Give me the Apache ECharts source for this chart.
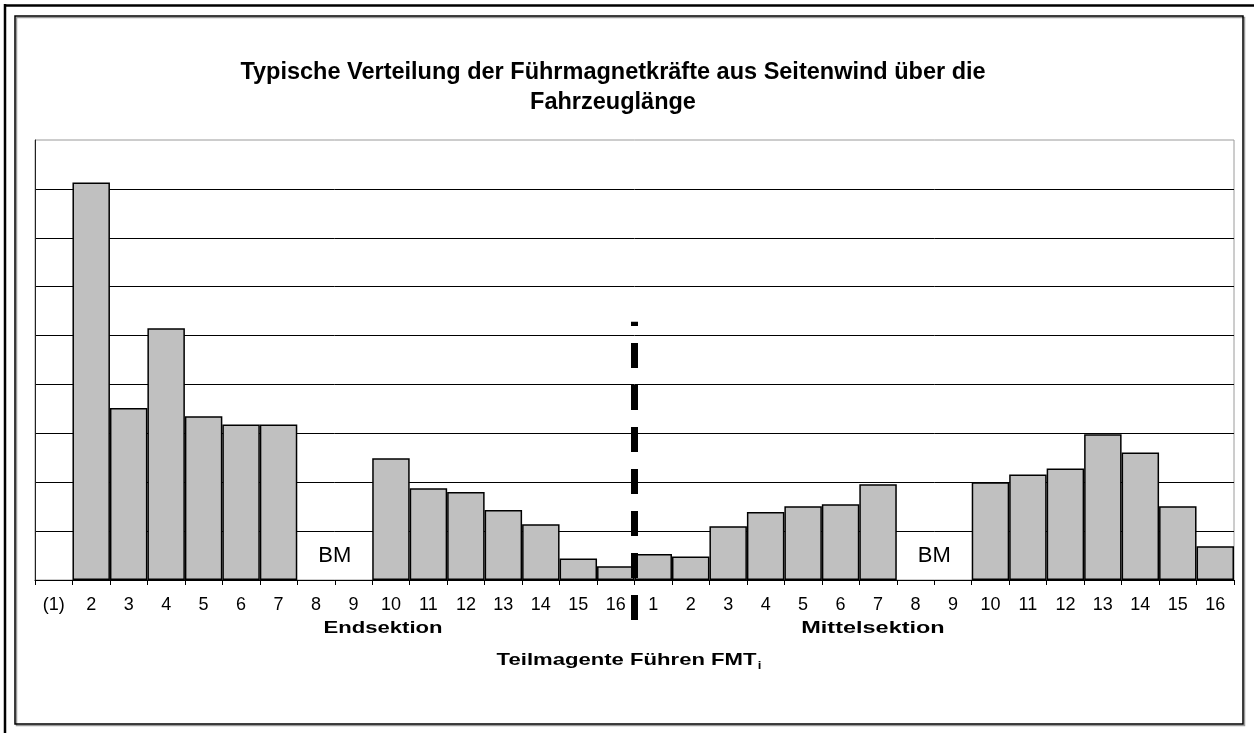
<!DOCTYPE html>
<html>
<head>
<meta charset="utf-8">
<title>Führmagnetkräfte</title>
<script src="https://cdn.jsdelivr.net/npm/echarts@6/dist/echarts.min.js"></script>
<style>
  html, body { margin: 0; padding: 0; background: #fff; }
  #chart { width: 1254px; height: 733px; }
</style>
</head>
<body>
<div id="chart"></div>
<script>
// Guide magnet segments: end section (1)..16 followed by middle section 1..16
const categories = ['(1)', '2', '3', '4', '5', '6', '7', '8', '9', '10', '11', '12', '13', '14', '15', '16',
                    '1', '2', '3', '4', '5', '6', '7', '8', '9', '10', '11', '12', '13', '14', '15', '16'];

// Crosswind guide forces per segment (relative units); null = no magnet (BM)
const forces = [null, 8.13, 3.52, 5.15, 3.35, 3.18, 3.18, null, null, 2.49, 1.875, 1.80, 1.43, 1.14, 0.44, 0.28,
                0.53, 0.48, 1.10, 1.39, 1.51, 1.55, 1.96, null, null, 2.00, 2.16, 2.28, 2.98, 2.61, 1.51, 0.69];

// Value range of the force axis
const yMin = 0;
const yMax = 9;
const yStep = 1;

// Section divider at the boundary between both sections (segment index), and its vertical extent
const dividerAt = 16;
const dividerSpan = [-0.82, 5.28];

// "BM" markers sit between the two empty segments of each section
const bmMarks = [[8, 0.5], [24, 0.5]];

const sectionNames = ['Endsektion', 'Mittelsektion'];
const axisTitle = 'Teilmagente Führen FMT';
const axisTitleIndex = 'i';
const titleText = 'Typische Verteilung der Führmagnetkräfte aus Seitenwind über die\nFahrzeuglänge';

const FONT = '"Liberation Sans", Arial, sans-serif';

const chart = echarts.init(document.getElementById('chart'), null, { renderer: 'canvas' });

// bold captions below the axis are drawn with wide tracking
const captionStyle = { fontFamily: FONT, fontWeight: 'bold', fontSize: 17, fill: '#000', align: 'center', verticalAlign: 'middle' };

chart.setOption({
  animation: false,
  backgroundColor: '#fff',
  title: {
    text: titleText,
    left: 608,
    top: 53,
    textAlign: 'center',
    textStyle: { fontFamily: FONT, fontWeight: 'bold', fontSize: 23.5, lineHeight: 30, color: '#000' }
  },
  grid: {
    left: 35, right: 20, top: 140, bottom: 153,
    show: true, borderColor: '#9a9a9a', borderWidth: 1, backgroundColor: 'transparent'
  },
  xAxis: [{
    type: 'category',
    data: categories,
    boundaryGap: true,
    axisLine: { lineStyle: { color: '#000', width: 1 } },
    axisTick: { show: true, interval: 0, length: 5, lineStyle: { color: '#000' } },
    axisLabel: { interval: 0, margin: 16, fontFamily: FONT, fontSize: 18, color: '#000' }
  }, {
    type: 'value',
    min: 0,
    max: categories.length,
    show: false
  }],
  yAxis: {
    type: 'value',
    min: yMin, max: yMax, interval: yStep,
    axisLabel: { show: false },
    axisTick: { show: false },
    axisLine: { show: true, lineStyle: { color: '#222', width: 1 } },
    splitLine: { show: true, showMaxLine: false, lineStyle: { color: '#000', width: 1 } }
  },
  series: [{
    type: 'bar',
    data: forces,
    barCategoryGap: '0%',
    itemStyle: { color: '#c0c0c0', borderColor: '#000', borderWidth: 1.5 },
    z: 2
  }, {
    type: 'line',
    xAxisIndex: 1,
    data: [[dividerAt, dividerSpan[0]], [dividerAt, dividerSpan[1]]],
    symbol: 'none',
    clip: false,
    lineStyle: { color: '#000', width: 7, type: [25, 17], cap: 'butt' },
    z: 5,
    silent: true
  }, {
    type: 'scatter',
    xAxisIndex: 1,
    data: bmMarks,
    symbolSize: 0,
    itemStyle: { opacity: 1 },
    label: {
      show: true, position: 'inside', formatter: 'BM',
      fontFamily: FONT, fontSize: 22, color: '#000'
    },
    z: 4,
    silent: true
  }],
  graphic: [
    // outer page edges
    { type: 'line', shape: { x1: 4, y1: 5.5, x2: 1254, y2: 5.5 }, style: { stroke: '#000', lineWidth: 2.5 } },
    { type: 'line', shape: { x1: 5, y1: 4, x2: 5, y2: 733 }, style: { stroke: '#000', lineWidth: 2.5 } },
    // chart frame with a light drop shadow
    { type: 'rect', shape: { x: 16.5, y: 17.5, width: 1228, height: 708 }, style: { fill: 'none', stroke: '#9a9a9a', lineWidth: 1.5 } },
    { type: 'rect', shape: { x: 15, y: 16, width: 1228, height: 708 }, style: { fill: 'none', stroke: '#000', lineWidth: 1.5 } },
    // section captions
    { type: 'text', x: 383, y: 628, scaleX: 1.3, style: Object.assign({ text: sectionNames[0] }, captionStyle) },
    { type: 'text', x: 873, y: 628, scaleX: 1.38, style: Object.assign({ text: sectionNames[1] }, captionStyle) },
    // axis title with subscript index
    {
      type: 'text', x: 629, y: 660, scaleX: 1.3,
      style: {
        text: '{b|' + axisTitle + '}{s|' + axisTitleIndex + '}',
        align: 'center', verticalAlign: 'middle',
        rich: {
          b: { fontFamily: FONT, fontWeight: 'bold', fontSize: 17, fill: '#000', lineHeight: 22 },
          s: { fontFamily: FONT, fontWeight: 'bold', fontSize: 10, fill: '#000', lineHeight: 22, padding: [12, 0, 0, 1] }
        }
      }
    }
  ]
});
</script>
</body>
</html>
